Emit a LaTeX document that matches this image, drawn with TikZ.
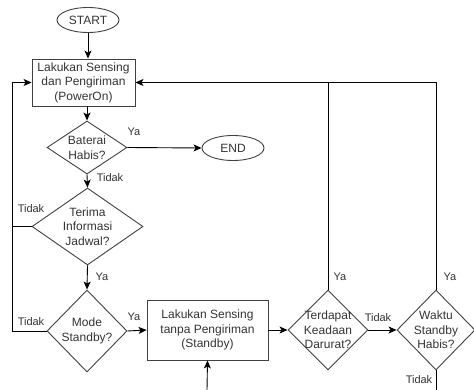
\documentclass[tikz,border=0pt]{standalone}
\usepackage{fontspec}
\setmainfont{Liberation Sans}
\usetikzlibrary{shapes.geometric,arrows.meta}
\begin{document}
\begin{tikzpicture}[x=1pt,y=-1pt,line width=0.9pt,
    every node/.style={text=black!80, font=\fontsize{12}{14.5}\selectfont},
    term/.style={ellipse, draw=black!75, minimum width=62, minimum height=25, inner sep=0},
    proc/.style={rectangle, draw=black!75, align=center, inner sep=0},
    dec/.style={diamond, draw=black!75, inner sep=0, minimum width=#1},
    lbl/.style={font=\fontsize{11}{13}\selectfont},
    flow/.style={draw=black, -{Stealth[length=8pt,width=7pt,inset=2pt]}},
    line/.style={draw=black}]
    \useasboundingbox (0,0) rectangle (474,390);

    % terminals and blocks
    \node[term] (start) at (88,20) {START};
    \node[proc, minimum width=103, minimum height=47] (sense) at (83.5,82.5) {Lakukan Sensing\\dan Pengiriman\\(PowerOn)};
    \node[dec=80, minimum height=53, label={[align=center]center:Baterai\\Habis?}] (bat) at (87,147.5) {};
    \node[term] (end) at (233,148) {END};
    \node[dec=111, minimum height=77, label={[align=center]center:Terima\\Informasi\\Jadwal?}] (terima) at (87.5,226.5) {};
    \node[dec=80, minimum height=82, label={[align=center]center:Mode\\Standby?}] (mode) at (87,331) {};
    \node[proc, minimum width=121, minimum height=60] (standby) at (207.5,330) {Lakukan Sensing\\tanpa Pengiriman\\(Standby)};
    \node[dec=80, minimum height=80, label={[align=center]center:Terdapat\\Keadaan\\Darurat?}] (darurat) at (328,330) {};
    \node[dec=78, minimum height=80, label={[align=center]center:Waktu\\Standby\\Habis?}] (waktu) at (436,330) {};

    \coordinate (lft) at (12,0);
    \coordinate (bot1) at (207,390);
    \coordinate (bot2) at (436,390);

    % connectors
    \draw[flow] (start.south) -- (start.south |- sense.north);
    \draw[flow] (sense.south -| bat) -- (bat.north);
    \draw[flow] (bat.east) -- (end.west);
    \draw[flow] (bat.south) -- (terima.north);
    \draw[flow] (terima.south) -- (mode.north);
    \draw[flow] (mode.east) -- (standby.west);
    \draw[flow] (standby.east) -- (darurat.west);
    \draw[flow] (darurat.east) -- (waktu.west);
    \draw[flow] (mode.west) -- (mode.west -| lft) |- (sense.west);
    \draw[line] (terima.west) -- (terima.west -| lft);
    \draw[flow] (darurat.north) |- (sense.east);
    \draw[line] (waktu.north) -- (waktu.north |- sense.east) -- (darurat.north |- sense.east);
    \draw[line] (waktu.south) -- (bot2);
    \draw[flow] (bot1) -- (standby.south);

    % branch labels
    \node[lbl] (l1) at (134,132) {Ya};
    \node[lbl] (l2) at (110,178) {Tidak};
    \node[lbl] (l3) at (31,209) {Tidak};
    \node[lbl] (l4) at (102,277) {Ya};
    \node[lbl] (l5) at (31,322) {Tidak};
    \node[lbl] (l6) at (134,317) {Ya};
    \node[lbl] (l7) at (340,277) {Ya};
    \node[lbl] (l8) at (378,318) {Tidak};
    \node[lbl] (l9) at (450,277) {Ya};
    \node[lbl] (l10) at (419,380) {Tidak};
\end{tikzpicture}
\end{document}
